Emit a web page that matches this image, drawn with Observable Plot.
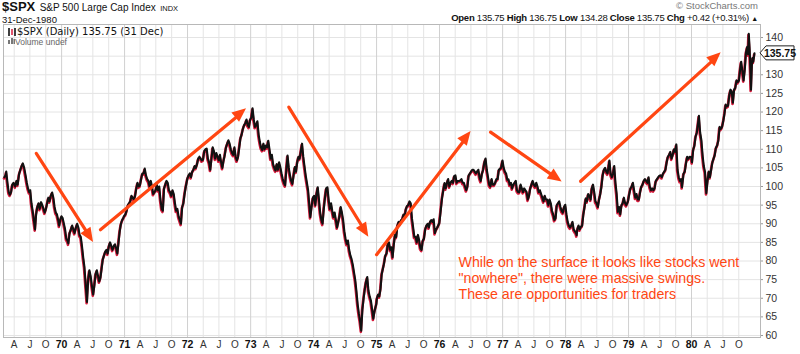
<!DOCTYPE html>
<html>
<head>
<meta charset="utf-8">
<script src="https://cdn.jsdelivr.net/npm/d3@7"></script>
<script src="https://cdn.jsdelivr.net/npm/@observablehq/plot@0.6"></script>
<style>
  html, body { margin: 0; padding: 0; background: #fff; }
  #wrap { position: relative; width: 800px; height: 354px; font-family: Arial, "Liberation Sans", sans-serif; color: #111; }
  #wrap > svg { position: absolute; left: 0; top: 0; }
  .ov { position: absolute; white-space: nowrap; }
</style>
</head>
<body>
<div id="wrap"></div>
<script>
// ---- Data: S&P 500 closes ----
const p1969 = [["1969-02-03",102.5],["1969-02-10",103.0],["1969-02-14",104.0],["1969-02-21",101.0],["1969-02-28",98.5],["1969-03-07",97.8],["1969-03-14",98.5],["1969-03-21",100.5],["1969-03-28",101.0],["1969-04-07",100.0],["1969-04-14",101.5],["1969-04-21",100.5],["1969-04-30",103.5],["1969-05-07",104.5],["1969-05-14",105.5],["1969-05-21",106.2],["1969-05-29",105.0],["1969-06-06",103.0],["1969-06-13",101.0],["1969-06-20",99.5],["1969-06-27",98.5],["1969-07-03",99.0],["1969-07-10",95.5],["1969-07-17",93.5],["1969-07-24",91.0],["1969-07-31",88.5],["1969-08-06",92.5],["1969-08-13",94.5],["1969-08-20",95.5],["1969-08-27",94.0],["1969-09-04",95.8],["1969-09-11",95.0],["1969-09-18",94.0],["1969-09-25",93.0],["1969-10-02",94.0],["1969-10-09",95.5],["1969-10-16",97.0],["1969-10-23",96.0],["1969-10-30",97.5],["1969-11-07",98.4],["1969-11-14",97.0],["1969-11-21",94.5],["1969-11-28",93.0],["1969-12-05",92.5],["1969-12-12",91.0],["1969-12-18",89.5],["1969-12-24",91.0],["1969-12-31",92.0]];
const p1970 = [["1970-01-07",91.5],["1970-01-14",90.0],["1970-01-21",88.5],["1970-01-28",86.0],["1970-02-04",85.5],["1970-02-09",84.7],["1970-02-16",87.5],["1970-02-24",88.5],["1970-03-03",89.5],["1970-03-10",88.5],["1970-03-17",87.5],["1970-03-25",89.0],["1970-04-01",90.0],["1970-04-08",89.0],["1970-04-15",87.0],["1970-04-22",86.5],["1970-04-29",84.0],["1970-05-06",81.0],["1970-05-13",78.5],["1970-05-20",74.0],["1970-05-28",69.0],["1970-06-04",75.0],["1970-06-11",77.5],["1970-06-18",76.0],["1970-06-25",73.5],["1970-07-03",71.0],["1970-07-10",73.5],["1970-07-17",76.5],["1970-07-24",77.5],["1970-07-31",76.0],["1970-08-07",74.5],["1970-08-14",75.5],["1970-08-21",78.0],["1970-08-28",80.5],["1970-09-04",81.5],["1970-09-11",82.5],["1970-09-18",83.0],["1970-09-25",82.0],["1970-10-02",84.0],["1970-10-09",85.0],["1970-10-16",84.0],["1970-10-23",83.0],["1970-10-30",84.0],["1970-11-06",84.5],["1970-11-13",83.5],["1970-11-20",82.0],["1970-11-27",85.0],["1970-12-04",88.0],["1970-12-11",90.0],["1970-12-18",91.0],["1970-12-24",91.5],["1970-12-31",92.2]];
const p1971 = [["1971-01-06",92.5],["1971-01-13",93.5],["1971-01-20",95.0],["1971-01-27",95.5],["1971-02-03",96.0],["1971-02-10",97.5],["1971-02-17",97.0],["1971-02-24",96.5],["1971-03-03",97.5],["1971-03-10",99.5],["1971-03-17",101.0],["1971-03-24",100.0],["1971-03-31",100.3],["1971-04-07",102.0],["1971-04-14",103.5],["1971-04-21",103.5],["1971-04-28",104.8],["1971-05-05",103.0],["1971-05-12",102.0],["1971-05-19",101.5],["1971-05-26",100.0],["1971-06-02",101.5],["1971-06-09",100.0],["1971-06-16",98.0],["1971-06-23",98.5],["1971-06-30",99.0],["1971-07-07",100.5],["1971-07-14",99.0],["1971-07-21",100.0],["1971-07-28",96.5],["1971-08-04",94.0],["1971-08-11",93.5],["1971-08-18",99.5],["1971-08-25",100.5],["1971-09-01",101.5],["1971-09-08",101.0],["1971-09-15",99.0],["1971-09-22",98.5],["1971-09-29",97.5],["1971-10-06",99.0],["1971-10-13",98.0],["1971-10-20",95.5],["1971-10-27",93.5],["1971-11-03",94.0],["1971-11-10",92.0],["1971-11-17",91.0],["1971-11-24",90.0],["1971-12-01",94.5],["1971-12-08",95.5],["1971-12-15",98.0],["1971-12-22",100.0],["1971-12-31",102.1]];
const p1972 = [["1972-01-07",103.0],["1972-01-14",103.5],["1972-01-21",102.5],["1972-01-28",104.0],["1972-02-04",104.5],["1972-02-11",105.5],["1972-02-18",105.0],["1972-02-25",106.0],["1972-03-03",107.5],["1972-03-10",108.0],["1972-03-17",107.5],["1972-03-24",107.0],["1972-03-31",107.2],["1972-04-07",109.5],["1972-04-14",110.0],["1972-04-21",110.2],["1972-04-28",107.5],["1972-05-05",106.5],["1972-05-12",104.5],["1972-05-19",107.5],["1972-05-26",110.5],["1972-06-02",109.5],["1972-06-09",107.5],["1972-06-16",109.0],["1972-06-23",108.0],["1972-06-30",107.0],["1972-07-07",108.5],["1972-07-14",106.5],["1972-07-21",105.0],["1972-07-28",107.0],["1972-08-04",108.5],["1972-08-11",110.5],["1972-08-18",111.5],["1972-08-25",112.4],["1972-09-01",111.5],["1972-09-08",110.0],["1972-09-15",109.0],["1972-09-22",108.5],["1972-09-29",110.5],["1972-10-06",108.0],["1972-10-13",107.0],["1972-10-20",108.0],["1972-10-27",110.5],["1972-11-03",113.0],["1972-11-10",114.0],["1972-11-17",115.5],["1972-11-24",116.5],["1972-12-01",117.0],["1972-12-08",118.0],["1972-12-15",116.5],["1972-12-22",116.0],["1972-12-29",118.0]];
const p1973 = [["1973-01-05",118.5],["1973-01-12",121.0],["1973-01-19",118.0],["1973-01-26",116.0],["1973-02-02",116.5],["1973-02-09",117.5],["1973-02-16",114.0],["1973-02-23",112.0],["1973-03-02",110.5],["1973-03-09",109.8],["1973-03-16",111.5],["1973-03-23",110.0],["1973-03-30",111.0],["1973-04-06",110.5],["1973-04-13",112.3],["1973-04-20",110.0],["1973-04-27",107.5],["1973-05-04",108.5],["1973-05-11",106.0],["1973-05-18",105.0],["1973-05-25",104.3],["1973-06-01",106.0],["1973-06-08",104.5],["1973-06-15",106.5],["1973-06-22",105.2],["1973-06-29",103.5],["1973-07-06",102.0],["1973-07-13",101.0],["1973-07-20",100.3],["1973-07-27",104.5],["1973-08-03",108.3],["1973-08-10",105.0],["1973-08-17",103.0],["1973-08-24",101.5],["1973-08-31",100.7],["1973-09-07",103.0],["1973-09-14",105.2],["1973-09-21",104.0],["1973-09-28",106.5],["1973-10-05",108.0],["1973-10-12",107.5],["1973-10-19",109.5],["1973-10-26",111.5],["1973-11-02",108.0],["1973-11-09",105.5],["1973-11-16",103.0],["1973-11-23",101.0],["1973-11-30",99.0],["1973-12-07",95.0],["1973-12-13",91.8],["1973-12-20",94.5],["1973-12-28",97.0]];
const p1974 = [["1974-01-04",97.5],["1974-01-11",95.0],["1974-01-18",98.0],["1974-01-25",99.8],["1974-02-01",96.5],["1974-02-08",93.0],["1974-02-15",91.0],["1974-02-22",90.0],["1974-03-01",94.0],["1974-03-08",97.0],["1974-03-15",99.5],["1974-03-22",99.8],["1974-03-29",96.5],["1974-04-05",94.0],["1974-04-12",95.5],["1974-04-19",93.5],["1974-04-26",91.8],["1974-05-03",93.0],["1974-05-10",91.0],["1974-05-17",89.0],["1974-05-24",90.5],["1974-05-31",92.0],["1974-06-07",94.5],["1974-06-14",93.0],["1974-06-21",91.0],["1974-06-28",88.0],["1974-07-05",86.0],["1974-07-12",84.6],["1974-07-19",85.5],["1974-07-26",83.0],["1974-08-02",81.5],["1974-08-09",80.5],["1974-08-16",79.0],["1974-08-23",77.0],["1974-08-30",75.0],["1974-09-06",72.0],["1974-09-13",68.5],["1974-09-20",66.0],["1974-09-27",64.0],["1974-10-04",61.3],["1974-10-11",67.0],["1974-10-18",70.0],["1974-10-25",72.5],["1974-11-01",74.5],["1974-11-08",75.7],["1974-11-15",72.0],["1974-11-22",70.5],["1974-11-29",69.4],["1974-12-06",67.0],["1974-12-13",64.5],["1974-12-20",66.5],["1974-12-31",68.5]];
const p1975 = [["1975-01-03",70.0],["1975-01-10",71.0],["1975-01-17",70.5],["1975-01-24",72.5],["1975-01-31",76.5],["1975-02-07",78.0],["1975-02-14",79.5],["1975-02-21",81.5],["1975-02-28",82.0],["1975-03-07",84.5],["1975-03-14",85.0],["1975-03-21",83.0],["1975-03-28",83.7],["1975-04-04",81.0],["1975-04-11",84.5],["1975-04-18",87.0],["1975-04-25",86.5],["1975-05-02",89.5],["1975-05-09",90.5],["1975-05-16",90.0],["1975-05-23",91.0],["1975-05-30",91.2],["1975-06-06",92.5],["1975-06-13",92.0],["1975-06-20",94.0],["1975-06-27",94.8],["1975-07-04",95.0],["1975-07-11",96.0],["1975-07-18",95.5],["1975-07-25",91.5],["1975-08-01",89.0],["1975-08-08",86.5],["1975-08-15",86.5],["1975-08-22",85.0],["1975-08-29",87.0],["1975-09-05",85.5],["1975-09-12",83.5],["1975-09-19",83.0],["1975-09-26",85.5],["1975-10-03",86.0],["1975-10-10",88.5],["1975-10-17",89.5],["1975-10-24",90.0],["1975-10-31",89.0],["1975-11-07",90.5],["1975-11-14",91.0],["1975-11-21",90.5],["1975-11-28",91.2],["1975-12-05",87.5],["1975-12-12",88.5],["1975-12-19",89.0],["1975-12-31",90.2]];
const p1976 = [["1976-01-09",94.0],["1976-01-16",97.0],["1976-01-23",99.0],["1976-01-30",100.9],["1976-02-06",99.5],["1976-02-13",101.0],["1976-02-20",102.0],["1976-02-27",100.0],["1976-03-05",101.0],["1976-03-12",101.5],["1976-03-19",101.0],["1976-03-26",102.8],["1976-04-02",103.0],["1976-04-09",101.0],["1976-04-16",101.5],["1976-04-23",101.5],["1976-04-30",101.6],["1976-05-07",102.0],["1976-05-14",101.0],["1976-05-21",101.0],["1976-05-28",100.0],["1976-06-04",99.0],["1976-06-11",100.0],["1976-06-18",103.0],["1976-06-25",103.5],["1976-07-02",104.0],["1976-07-09",104.5],["1976-07-16",104.5],["1976-07-23",104.0],["1976-07-30",103.5],["1976-08-06",104.0],["1976-08-13",104.5],["1976-08-20",102.5],["1976-08-27",101.5],["1976-09-03",103.5],["1976-09-10",104.5],["1976-09-17",106.5],["1976-09-24",107.5],["1976-10-01",104.5],["1976-10-08",102.5],["1976-10-15",100.5],["1976-10-22",100.0],["1976-10-29",102.0],["1976-11-05",100.5],["1976-11-12",100.5],["1976-11-19",101.0],["1976-11-26",102.0],["1976-12-03",102.0],["1976-12-10",104.5],["1976-12-17",104.8],["1976-12-23",105.0],["1976-12-31",107.0]];
const p1977 = [["1977-01-07",105.0],["1977-01-14",104.0],["1977-01-21",103.5],["1977-01-28",101.8],["1977-02-04",101.9],["1977-02-11",100.5],["1977-02-18",101.0],["1977-02-25",99.5],["1977-03-04",100.5],["1977-03-11",101.0],["1977-03-18",101.5],["1977-03-25",99.0],["1977-04-01",98.5],["1977-04-08",98.5],["1977-04-15",100.5],["1977-04-22",99.5],["1977-04-29",98.5],["1977-05-06",99.5],["1977-05-13",99.0],["1977-05-20",98.5],["1977-05-27",96.5],["1977-06-03",97.5],["1977-06-10",99.5],["1977-06-17",100.5],["1977-06-24",101.5],["1977-07-01",100.5],["1977-07-08",100.0],["1977-07-15",101.0],["1977-07-22",100.0],["1977-07-29",98.5],["1977-08-05",99.0],["1977-08-12",98.0],["1977-08-19",97.0],["1977-08-26",96.0],["1977-09-02",97.5],["1977-09-09",96.5],["1977-09-16",96.5],["1977-09-23",95.0],["1977-09-30",96.5],["1977-10-07",95.5],["1977-10-14",93.5],["1977-10-21",92.5],["1977-10-28",91.0],["1977-11-04",91.5],["1977-11-11",95.0],["1977-11-18",95.5],["1977-11-25",96.0],["1977-12-02",94.5],["1977-12-09",93.5],["1977-12-16",93.0],["1977-12-23",94.5],["1977-12-30",95.1]];
const p1978 = [["1978-01-06",92.5],["1978-01-13",90.5],["1978-01-20",89.5],["1978-01-27",89.0],["1978-02-03",89.5],["1978-02-10",90.5],["1978-02-17",88.5],["1978-02-24",88.0],["1978-03-03",87.5],["1978-03-06",86.9],["1978-03-10",88.5],["1978-03-17",89.5],["1978-03-24",88.5],["1978-03-31",89.2],["1978-04-07",89.5],["1978-04-14",92.5],["1978-04-21",94.5],["1978-04-28",96.8],["1978-05-05",96.0],["1978-05-12",98.0],["1978-05-19",97.5],["1978-05-26",96.5],["1978-06-02",99.5],["1978-06-09",100.5],["1978-06-16",98.5],["1978-06-23",96.0],["1978-06-30",95.5],["1978-07-07",94.5],["1978-07-14",96.5],["1978-07-21",98.0],["1978-07-28",100.0],["1978-08-04",103.0],["1978-08-11",104.5],["1978-08-18",105.0],["1978-08-25",104.0],["1978-09-01",103.5],["1978-09-08",105.5],["1978-09-12",107.0],["1978-09-19",103.5],["1978-09-26",102.5],["1978-10-03",103.5],["1978-10-10",105.5],["1978-10-17",101.0],["1978-10-24",98.0],["1978-10-31",93.2],["1978-11-07",94.5],["1978-11-14",92.5],["1978-11-21",95.0],["1978-11-28",95.5],["1978-12-05",97.0],["1978-12-12",95.5],["1978-12-19",95.0],["1978-12-29",96.1]];
const p1979 = [["1979-01-05",98.0],["1979-01-12",99.5],["1979-01-19",100.0],["1979-01-26",101.0],["1979-02-02",99.0],["1979-02-09",97.0],["1979-02-16",98.0],["1979-02-23",96.5],["1979-03-02",96.5],["1979-03-09",98.5],["1979-03-16",100.0],["1979-03-23",100.5],["1979-03-30",101.5],["1979-04-06",102.0],["1979-04-13",101.5],["1979-04-20",101.0],["1979-04-27",102.5],["1979-05-04",100.0],["1979-05-11",99.0],["1979-05-18",99.5],["1979-05-25",99.0],["1979-06-01",99.5],["1979-06-08",101.5],["1979-06-15",102.0],["1979-06-22",102.5],["1979-06-29",102.9],["1979-07-06",103.0],["1979-07-13",102.5],["1979-07-20",103.5],["1979-07-27",104.0],["1979-08-03",104.5],["1979-08-10",106.5],["1979-08-17",108.0],["1979-08-24",108.5],["1979-08-31",109.3],["1979-09-07",107.5],["1979-09-14",108.5],["1979-09-21",110.0],["1979-09-28",109.3],["1979-10-05",111.3],["1979-10-12",104.5],["1979-10-19",102.5],["1979-10-26",101.5],["1979-11-02",102.0],["1979-11-07",99.8],["1979-11-16",103.5],["1979-11-23",104.0],["1979-11-30",106.2],["1979-12-07",108.0],["1979-12-14",107.5],["1979-12-21",108.0],["1979-12-31",107.9]];
const p1980 = [["1980-01-04",106.5],["1980-01-11",109.9],["1980-01-18",111.0],["1980-01-25",113.5],["1980-02-01",114.5],["1980-02-08",117.0],["1980-02-13",119.0],["1980-02-20",114.5],["1980-02-27",112.5],["1980-03-05",108.5],["1980-03-12",105.5],["1980-03-19",104.0],["1980-03-27",98.2],["1980-04-03",101.5],["1980-04-10",104.0],["1980-04-17",102.5],["1980-04-24",104.5],["1980-05-01",106.5],["1980-05-08",107.5],["1980-05-15",108.5],["1980-05-22",110.5],["1980-05-29",111.0],["1980-06-05",112.5],["1980-06-12",116.0],["1980-06-19",115.5],["1980-06-26",116.0],["1980-07-03",117.5],["1980-07-10",119.5],["1980-07-17",122.0],["1980-07-24",121.5],["1980-07-31",121.7],["1980-08-07",124.5],["1980-08-14",126.0],["1980-08-21",125.5],["1980-08-28",122.5],["1980-09-04",126.0],["1980-09-11",126.5],["1980-09-18",128.5],["1980-09-25",128.0],["1980-10-02",128.5],["1980-10-09",131.5],["1980-10-15",133.5],["1980-10-22",131.0],["1980-10-29",128.5],["1980-11-05",131.5],["1980-11-12",136.0],["1980-11-19",137.5],["1980-11-24",135.5],["1980-11-28",141.0],["1980-12-03",137.0],["1980-12-08",130.5],["1980-12-11",126.0],["1980-12-16",132.5],["1980-12-19",134.5],["1980-12-24",133.5],["1980-12-31",135.75]];

// Trend arrows (start date, start value, end date, end value)
const arrowStart = ["1969-08-07","1970-08-14","1973-08-10","1975-01-01","1976-10-23","1978-03-29"];
const arrowStartVal = [108.9, 88.4, 121.3, 81.7, 114.6, 101.4];
const arrowEnd = ["1970-07-05","1972-12-08","1974-11-17","1976-07-02","1977-12-12","1980-06-21"];
const arrowEndVal = [85.0, 120.9, 86.4, 114.8, 101.2, 135.9];

// Annotation
const noteText = "While on the surface it looks like stocks went\n\"nowhere\", there were massive swings.\nThese are opportunities for traders";
const noteDate = "1976-04-20";
const noteVal = 81.35;

// Axis ticks / labels
const yTicks = [60,65,70,75,80,85,90,95,100,105,110,115,120,125,130,135,140];
const yLabelTicks = [60,65,70,75,80,85,90,95,100,105,110,115,120,125,130,140]; // 135 is covered by the price flag
const yearTicks = [1970,1971,1972,1973,1974,1975,1976,1977,1978,1979,1980];
const quarterLetters = {3: "A", 6: "J", 9: "O"};
const lastClose = 135.75;
const lastLabel = "135.75";

// ---- Build ----
const series = [...p1969,...p1970,...p1971,...p1972,...p1973,...p1974,...p1975,...p1976,...p1977,...p1978,...p1979,...p1980]
  .map(([d, v]) => ({date: new Date(d), close: v}));
const arrows = arrowStart.map((d, i) => ({x1: new Date(d), y1: arrowStartVal[i], x2: new Date(arrowEnd[i]), y2: arrowEndVal[i]}));
const yearDates = yearTicks.map(y => new Date(Date.UTC(y, 0, 1)));
const quarterDates = d3.utcMonth.every(3).range(new Date("1969-02-01"), new Date("1981-01-01")).filter(d => d.getUTCMonth() !== 0);

const red = "#ff4612";
const chart = Plot.plot({
  width: 800, height: 354,
  marginLeft: 3, marginRight: 40, marginTop: 24, marginBottom: 17,
  x: {type: "utc", domain: [new Date("1969-01-29"), new Date("1981-02-04")]},
  y: {domain: [59.46, 143.5]},
  style: {background: "white", fontFamily: "Arial, 'Liberation Sans', sans-serif", color: "#222", overflow: "visible"},
  marks: [
    Plot.ruleY(yTicks, {stroke: "#e4e4e4", strokeWidth: 1}),
    Plot.ruleX(quarterDates, {stroke: "#e4e4e4", strokeWidth: 1}),
    Plot.ruleX(yearDates, {stroke: "#d0d0d0", strokeWidth: 1}),
    Plot.frame({stroke: "#b8b8b8"}),
    Plot.axisX({ticks: quarterDates, tickFormat: d => quarterLetters[d.getUTCMonth()], tickSize: 0, tickPadding: 3, fontSize: 10, fill: "#333"}),
    Plot.axisX({ticks: yearDates, tickFormat: d => String(d.getUTCFullYear()).slice(2), tickSize: 0, tickPadding: 3, fontSize: 10.5, fontWeight: "bold", fill: "#111"}),
    Plot.axisY({anchor: "right", ticks: yLabelTicks, tickSize: 2, tickPadding: 3, fontSize: 10.5, fill: "#333", stroke: "#999"}),
    Plot.line(series, {x: "date", y: "close", stroke: "#d81b3c", strokeWidth: 2.6, dy: 1.3, dx: -0.4}),
    Plot.line(series, {x: "date", y: "close", stroke: "#111", strokeWidth: 2.1}),
    Plot.arrow(arrows, {x1: "x1", y1: "y1", x2: "x2", y2: "y2", stroke: red, strokeWidth: 3.2, headLength: 0, insetEnd: 9}),
    Plot.text([noteText], {x: () => new Date(noteDate), y: () => noteVal, text: d => d, textAnchor: "start", lineAnchor: "top", fontSize: 14.2, lineHeight: 1.13, fill: red})
  ]
});

const wrap = document.getElementById("wrap");
wrap.appendChild(chart);

const sx = chart.scale("x"), sy = chart.scale("y");
const svg = d3.select(chart);

// filled arrowheads, positioned through Plot's scales
const heads = svg.append("g").attr("fill", red);
arrows.forEach(a => {
  const x1 = sx.apply(a.x1), y1 = sy.apply(a.y1), x2 = sx.apply(a.x2), y2 = sy.apply(a.y2);
  const dx = x2 - x1, dy = y2 - y1, len = Math.hypot(dx, dy);
  const ux = dx / len, uy = dy / len, L = 14, W = 6;
  const bx = x2 - ux * L, by = y2 - uy * L;
  heads.append("path").attr("d", `M${x2},${y2} L${bx - uy * W},${by + ux * W} L${bx + uy * W},${by - ux * W} Z`);
});

// price flag on the right axis
const ys = sy.apply(lastClose);
const xr = sx.range[1];
const g = svg.append("g");
g.append("path")
  .attr("d", `M${xr},${ys} L${xr+6},${ys-7} L${xr+34},${ys-7} L${xr+34},${ys+7} L${xr+6},${ys+7} Z`)
  .attr("fill", "white").attr("stroke", "#222").attr("stroke-width", 1);
g.append("text").attr("x", xr + 20).attr("y", ys + 3.8).attr("text-anchor", "middle")
  .attr("font-size", 10.5).attr("font-weight", "bold").attr("fill", "#111").text(lastLabel);

function ov(html, style) {
  const d = document.createElement("div");
  d.className = "ov";
  d.innerHTML = html;
  Object.assign(d.style, style);
  wrap.appendChild(d);
  return d;
}
ov('<b style="font-size:13px">$SPX</b> <span style="font-size:10px">S&amp;P 500 Large Cap Index</span> <span style="font-size:7.5px">INDX</span>', {left: "2px", top: "-1px", height: "13px", lineHeight: "13px"});
ov('31-Dec-1980', {left: "2px", top: "14.5px", fontSize: "9.5px", height: "9.5px", lineHeight: "9.5px"});
// legend icons (drawn as tiny svgs)
ov('<svg width="8" height="8"><line x1="1" y1="0" x2="1" y2="8" stroke="#000" stroke-width="1.5"/><line x1="4" y1="1" x2="4" y2="7" stroke="#d81b3c" stroke-width="1.5"/><line x1="7" y1="0" x2="7" y2="8" stroke="#000" stroke-width="1.5"/></svg>', {left: "8px", top: "28px", height: "8px", lineHeight: "0"});
ov('$SPX (Daily) 135.75 (31 Dec)', {left: "17px", top: "26.5px", fontSize: "10px", height: "9.5px", lineHeight: "9.5px", fontFamily: "'DejaVu Sans', Verdana, sans-serif"});
ov('<svg width="7" height="6"><rect x="0" y="2" width="2" height="4" fill="#777"/><rect x="3" y="0" width="2" height="6" fill="#777"/><rect x="5.5" y="1" width="1.5" height="5" fill="#777"/></svg>', {left: "8px", top: "38px", height: "6px", lineHeight: "0"});
ov('Volume undef', {left: "15px", top: "37.5px", fontSize: "8.5px", height: "8px", lineHeight: "8px", color: "#666"});
ov('© StockCharts.com', {right: "42px", top: "1px", fontSize: "9.5px", height: "10px", lineHeight: "10px", color: "#777"});
ov('<b>Open</b> 135.75 <b>High</b> 136.75 <b>Low</b> 134.28 <b>Close</b> 135.75 <b>Chg</b> +0.42 (+0.31%) <span style="font-size:7px">▲</span>', {right: "42px", top: "12.5px", fontSize: "9.5px", height: "10px", lineHeight: "10px", letterSpacing: "-0.25px"});
</script>
</body>
</html>
